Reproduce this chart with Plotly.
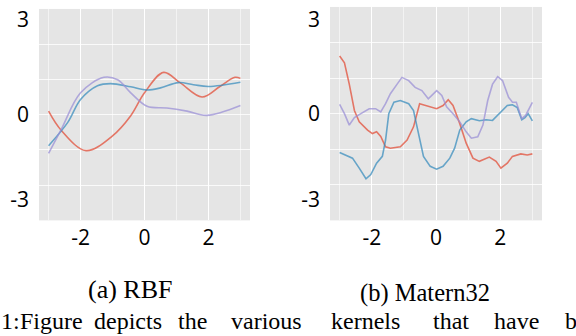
import plotly.graph_objects as go

# ---------------- data ----------------
rbf_red_x = [-3.0, -2.6, -1.83, -1.0, -0.43, 0.0, 0.6, 1.12, 1.8, 2.36, 2.83, 3.0]
rbf_red_y = [0.1, -0.45, -1.02, -0.6, -0.03, 0.62, 1.2, 0.9, 0.5, 0.8, 1.06, 1.03]

rbf_blue_x = [-3.0, -2.4, -2.0, -1.47, -1.06, -0.43, 0.08, 0.5, 1.06, 1.53, 2.0, 3.0]
rbf_blue_y = [-0.88, -0.22, 0.43, 0.82, 0.88, 0.79, 0.7, 0.76, 0.91, 0.85, 0.8, 0.92]

rbf_purple_x = [-3.0, -2.6, -2.0, -1.27, -0.84, -0.43, 0.08, 0.7, 1.33, 1.95, 3.0]
rbf_purple_y = [-1.1, -0.41, 0.62, 1.06, 0.99, 0.62, 0.24, 0.19, 0.1, -0.02, 0.26]

m32_red_x = [-3.0, -2.85, -2.7, -2.54, -2.39, -2.13, -1.98, -1.85, -1.72, -1.57, -1.42, -1.11,
             -0.9, -0.7, -0.51, -0.29, 0.02, 0.22, 0.38, 0.53, 0.74, 0.94, 1.15, 1.35, 1.66,
             1.87, 2.02, 2.22, 2.38, 2.64, 2.84, 3.0]
m32_red_y = [1.62, 1.43, 0.83, 0.09, -0.23, -0.46, -0.56, -0.51, -0.64, -0.93, -0.97, -0.93,
             -0.74, -0.37, 0.28, 0.23, 0.14, 0.23, 0.39, 0.23, -0.28, -0.83, -1.25, -1.34, -1.22,
             -1.34, -1.53, -1.39, -1.2, -1.13, -1.16, -1.13]

m32_blue_x = [-3.0, -2.75, -2.6, -2.39, -2.18, -2.03, -1.85, -1.67, -1.57, -1.47, -1.31, -1.11,
              -0.85, -0.7, -0.54, -0.39, -0.18, 0.02, 0.22, 0.43, 0.58, 0.74, 0.94, 1.1, 1.35,
              1.56, 1.76, 1.97, 2.22, 2.38, 2.53, 2.67, 2.77, 2.87, 3.0]
m32_blue_y = [-1.09, -1.2, -1.25, -1.53, -1.83, -1.71, -1.39, -1.2, -0.74, 0.0, 0.32, 0.37,
              0.28, 0.09, -0.56, -1.2, -1.48, -1.56, -1.48, -1.25, -0.97, -0.46, -0.23, -0.14, -0.2,
              -0.17, -0.19, 0.0, 0.23, 0.25, 0.17, -0.17, -0.11, 0.0, -0.2]

m32_purple_x = [-3.0, -2.85, -2.7, -2.54, -2.34, -2.08, -1.88, -1.72, -1.57, -1.42, -1.21, -1.06,
                -0.85, -0.65, -0.44, -0.24, 0.02, 0.18, 0.33, 0.53, 0.74, 0.94, 1.1, 1.3, 1.46,
                1.61, 1.76, 1.92, 2.07, 2.26, 2.38, 2.5, 2.67, 2.79, 3.0]
m32_purple_y = [0.26, 0.0, -0.32, -0.11, 0.0, 0.14, 0.14, 0.05, 0.28, 0.56, 0.83, 1.02,
                0.93, 0.74, 0.65, 0.42, 0.65, 0.51, 0.19, 0.0, -0.23, -0.51, -0.69, -0.65, -0.32,
                0.37, 0.83, 1.04, 0.93, 0.46, 0.32, 0.32, -0.14, -0.05, 0.32]

x_tick_vals = [-2, 0, 2]
x_tick_text = ["-2", "0", "2"]
x_minor_vals = [-3, -1, 1, 3]
y_grid_vals = [-2, -1, 0, 1, 2]
y_tick_text = ["3", "0", "-3"]
y_tick_pos_left = [2.69, 0, -2.41]
y_tick_pos_right = [2.64, 0, -2.42]

captions = ["(a) RBF", "(b) Matern32"]
body_words = ["1:", "Figure", "depicts", "the", "various", "kernels", "that", "have", "b"]
body_word_left_px = [0, 19, 93, 177, 230, 330, 432, 493, 564]

# ---------------- styling ----------------
RED = "rgba(226,74,51,0.72)"
BLUE = "rgba(52,138,189,0.72)"
PURPLE = "rgba(152,142,213,0.72)"
BG = "#E5E5E5"
TICKFONT = dict(family="Open Sans", size=21, color="black")
SERIF = "Liberation Serif"

fig = go.Figure()

def add(x, y, color, xa, ya, shape):
    fig.add_trace(go.Scatter(x=x, y=y, mode="lines", xaxis=xa, yaxis=ya,
                             line=dict(color=color, width=1.6, shape=shape, smoothing=1.0),
                             showlegend=False, hoverinfo="skip"))

add(rbf_red_x, rbf_red_y, RED, "x", "y", "spline")
add(rbf_blue_x, rbf_blue_y, BLUE, "x", "y", "spline")
add(rbf_purple_x, rbf_purple_y, PURPLE, "x", "y", "spline")
add(m32_red_x, m32_red_y, RED, "x2", "y2", "linear")
add(m32_blue_x, m32_blue_y, BLUE, "x2", "y2", "linear")
add(m32_purple_x, m32_purple_y, PURPLE, "x2", "y2", "linear")

def xaxis(domain, anchor):
    return dict(domain=domain, anchor=anchor, range=[-3.3, 3.3],
                tickvals=x_tick_vals, ticktext=x_tick_text, tickfont=TICKFONT,
                showgrid=True, gridcolor="white", gridwidth=1.2,
                minor=dict(tickvals=x_minor_vals, showgrid=True,
                           gridcolor="rgba(255,255,255,0.55)", gridwidth=1),
                zeroline=False, showline=False, ticks="", ticklabelstandoff=3,
                fixedrange=True)

def yaxis(domain, anchor, pos, standoff):
    return dict(domain=domain, anchor=anchor, range=[-3, 3],
                tickvals=pos, ticktext=y_tick_text, tickfont=TICKFONT,
                showgrid=False,
                minor=dict(tickvals=y_grid_vals, showgrid=True,
                           gridcolor="rgba(255,255,255,0.8)", gridwidth=1),
                zeroline=False, showline=False, ticks="", ticklabelstandoff=standoff,
                fixedrange=True)

W, H = 576, 336
annotations = [
    dict(text=captions[0], x=130 / W, y=1 - 289 / H, xref="paper", yref="paper",
         xanchor="center", yanchor="middle", showarrow=False,
         font=dict(family=SERIF, size=26, color="black")),
    dict(text=captions[1], x=425 / W, y=1 - 292 / H, xref="paper", yref="paper",
         xanchor="center", yanchor="middle", showarrow=False,
         font=dict(family=SERIF, size=24.5, color="black")),
]
for word, left in zip(body_words, body_word_left_px):
    annotations.append(dict(text=word, x=(left - 1) / W, y=1 - 336 / H, xref="paper", yref="paper",
                            xanchor="left", yanchor="bottom", showarrow=False,
                            font=dict(family=SERIF, size=24, color="black")))

fig.update_layout(
    width=W, height=H,
    margin=dict(l=0, r=0, t=0, b=0),
    paper_bgcolor="white",
    plot_bgcolor=BG,
    xaxis=xaxis([39 / W, 250 / W], "y"),
    yaxis=yaxis([1 - 219 / H, 1 - 5 / H], "x", y_tick_pos_left, 9),
    xaxis2=xaxis([330 / W, 542 / W], "y2"),
    yaxis2=yaxis([1 - 219 / H, 1 - 3 / H], "x2", y_tick_pos_right, 9),
    annotations=annotations,
)

fig.write_html("out.html", config={"displayModeBar": False},
               post_script="document.body.style.margin='0';document.body.style.overflow='hidden';")
